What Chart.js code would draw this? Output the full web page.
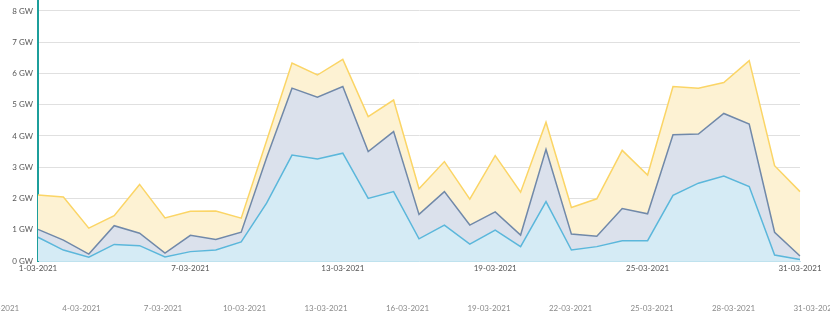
<!DOCTYPE html>
<html lang="en">
<head>
    <meta charset="UTF-8">
    <title>Vermogen maart 2021</title>
    <style>
        body {
            margin: 0;
            width: 830px;
            height: 326px;
            overflow: hidden;
            background: #fff;
            position: relative;
        }
        #mainChart {
            position: absolute;
            left: 0;
            top: 0;
        }
        #navAxis {
            position: absolute;
            left: -40px;
            top: 290px;
        }
    </style>
</head>
<body>
    <canvas id="mainChart" width="830" height="280"></canvas>
    <canvas id="navAxis" width="900" height="32"></canvas>
    <script src="https://cdn.jsdelivr.net/npm/chart.js"></script>
    <script>
        // Daily values in GW, March 2021
        const days = [
            '1-03-2021', '2-03-2021', '3-03-2021', '4-03-2021', '5-03-2021', '6-03-2021',
            '7-03-2021', '8-03-2021', '9-03-2021', '10-03-2021', '11-03-2021', '12-03-2021',
            '13-03-2021', '14-03-2021', '15-03-2021', '16-03-2021', '17-03-2021', '18-03-2021',
            '19-03-2021', '20-03-2021', '21-03-2021', '22-03-2021', '23-03-2021', '24-03-2021',
            '25-03-2021', '26-03-2021', '27-03-2021', '28-03-2021', '29-03-2021', '30-03-2021',
            '31-03-2021'
        ];
        const lower = [0.76, 0.35, 0.12, 0.53, 0.49, 0.13, 0.30, 0.35, 0.61, 1.85, 3.39, 3.26, 3.45, 2.00, 2.22, 0.71,
                       1.15, 0.54, 0.99, 0.46, 1.90, 0.35, 0.46, 0.65, 0.65, 2.10, 2.49, 2.72, 2.38, 0.19, 0.05];
        const middle = [1.01, 0.67, 0.22, 1.13, 0.89, 0.25, 0.82, 0.69, 0.92, 3.30, 5.53, 5.24, 5.58, 3.50, 4.14, 1.49,
                        2.22, 1.15, 1.57, 0.83, 3.57, 0.86, 0.79, 1.68, 1.51, 4.04, 4.06, 4.72, 4.38, 0.92, 0.16];
        const upper = [2.11, 2.05, 1.05, 1.45, 2.45, 1.38, 1.59, 1.60, 1.37, 3.85, 6.33, 5.95, 6.45, 4.62, 5.15, 2.31,
                       3.18, 1.98, 3.37, 2.20, 4.44, 1.71, 1.99, 3.54, 2.75, 5.58, 5.53, 5.71, 6.41, 3.05, 2.22];
        const yMax = 8.35;

        const font = { family: 'Lato', size: 8 };

        new Chart(document.getElementById('mainChart'), {
            type: 'line',
            data: {
                labels: days,
                datasets: [
                    {
                        label: 'lower',
                        data: lower,
                        borderColor: '#5bb7db',
                        backgroundColor: '#d5ebf5',
                        fill: 'origin'
                    },
                    {
                        label: 'middle',
                        data: middle,
                        borderColor: '#7189a9',
                        backgroundColor: '#dbe1ec',
                        fill: '-1'
                    },
                    {
                        label: 'upper',
                        data: upper,
                        borderColor: '#fbd566',
                        backgroundColor: '#fdf2d3',
                        fill: '-1'
                    }
                ]
            },
            options: {
                responsive: false,
                animation: false,
                devicePixelRatio: 1,
                layout: { padding: { left: 0, right: 30, top: 0, bottom: 0 } },
                elements: {
                    point: { radius: 0 },
                    line: { tension: 0, borderWidth: 1.5 }
                },
                plugins: {
                    legend: { display: false },
                    tooltip: { enabled: false }
                },
                scales: {
                    x: {
                        grid: { display: false, drawTicks: false },
                        border: { color: '#bfe2ee', width: 1 },
                        ticks: {
                            autoSkip: false,
                            maxRotation: 0,
                            padding: 3,
                            color: '#555',
                            font: font,
                            callback: (v, i) => i % 6 === 0 ? days[i] : ''
                        },
                        afterFit: s => { s.height = 19; }
                    },
                    y: {
                        min: 0,
                        max: yMax,
                        grid: { color: '#e0e0e0', drawTicks: false },
                        border: { color: '#1c9e9b', width: 2 },
                        ticks: {
                            stepSize: 1,
                            padding: 5,
                            color: '#555',
                            font: font,
                            callback: v => v + ' GW'
                        },
                        afterBuildTicks: s => { s.ticks = s.ticks.filter(t => Number.isInteger(t.value)); },
                        afterFit: s => { s.width = 38; s.paddingTop = 0; s.paddingBottom = 0; }
                    }
                }
            }
        });

        // date axis of the range navigator underneath
        new Chart(document.getElementById('navAxis'), {
            type: 'line',
            data: { labels: days, datasets: [] },
            options: {
                responsive: false,
                animation: false,
                devicePixelRatio: 1,
                layout: { padding: { left: 40, right: 45, top: 0, bottom: 0 } },
                plugins: { legend: { display: false }, tooltip: { enabled: false } },
                scales: {
                    y: { display: false },
                    x: {
                        grid: { display: false, drawTicks: false },
                        border: { display: false },
                        ticks: {
                            autoSkip: false,
                            maxRotation: 0,
                            padding: 2,
                            color: '#8a8a8a',
                            font: font,
                            callback: (v, i) => i % 3 === 0 ? days[i] : ''
                        },
                        afterFit: s => { s.height = 20; }
                    }
                }
            }
        });
    </script>
</body>
</html>
